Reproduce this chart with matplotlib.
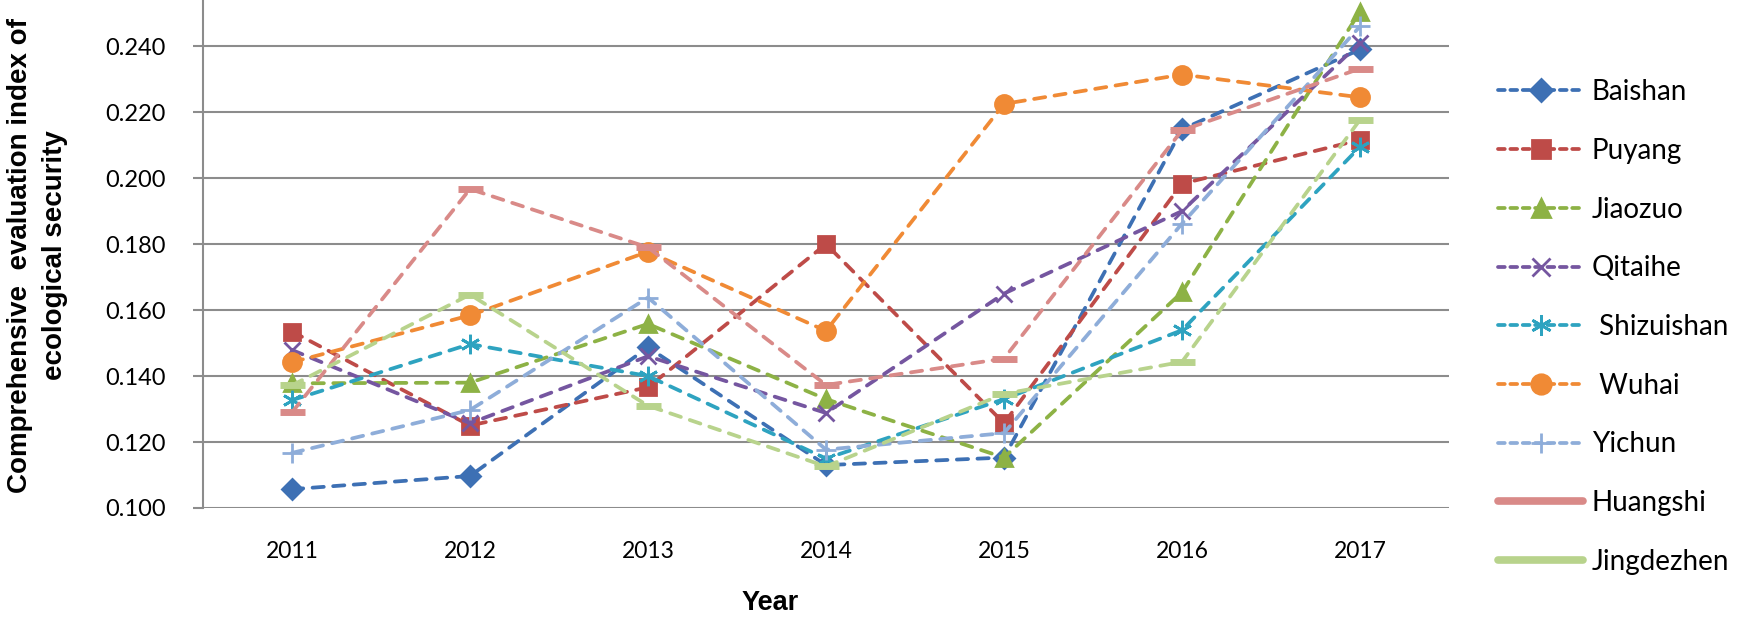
import matplotlib
matplotlib.use('Agg')
import matplotlib.pyplot as plt
from matplotlib.lines import Line2D
from matplotlib import font_manager

years = ['2011', '2012', '2013', '2014', '2015', '2016', '2017']

baishan = [0.1057, 0.1097, 0.1487, 0.1130, 0.1153, 0.2148, 0.2390]
puyang = [0.1535, 0.1250, 0.1366, 0.1800, 0.1257, 0.1983, 0.2116]
jiaozuo = [0.1378, 0.1380, 0.1558, 0.1330, 0.1153, 0.1654, 0.2505]
qitaihe = [0.1479, 0.1257, 0.1460, 0.1288, 0.1650, 0.1900, 0.2410]
shizuishan = [0.1327, 0.1497, 0.1400, 0.1150, 0.1330, 0.1539, 0.2095]
wuhai = [0.1442, 0.1584, 0.1777, 0.1537, 0.2225, 0.2314, 0.2245]
yichun = [0.1167, 0.1297, 0.1638, 0.1177, 0.1227, 0.1862, 0.2460]
huangshi = [0.1290, 0.1967, 0.1790, 0.1373, 0.1453, 0.2145, 0.2332]
jingdezhen = [0.1372, 0.1647, 0.1310, 0.1126, 0.1346, 0.1443, 0.2177]

names = ['Baishan', 'Puyang', 'Jiaozuo', 'Qitaihe', ' Shizuishan', ' Wuhai',
         'Yichun', 'Huangshi', 'Jingdezhen']
series = [baishan, puyang, jiaozuo, qitaihe, shizuishan, wuhai, yichun,
          huangshi, jingdezhen]
colors = ['#3D70B4', '#BE4B48', '#8DB245', '#7556A0', '#2EA3C0', '#F08A35',
          '#8EADD9', '#D98A88', '#B8D38C']
markers = ['D', 's', '^', 'x', (6, 2, 0), 'o', '+', '_', '_']
msizes = [10, 12, 12, 12, 14, 13, 14, 18, 18]

# fonts: Calibri-ish for ticks/legend, Arial-ish bold for axis titles
avail = set(f.name for f in font_manager.fontManager.ttflist)
body_font = 'Lato' if 'Lato' in avail else 'DejaVu Sans'
title_font = 'Liberation Sans'

W, H = 1737, 620
fig = plt.figure(figsize=(W / 100, H / 100), dpi=100)
ax = fig.add_axes([203 / W, 1 - 508 / H, (1449 - 203) / W, 508 / H])

x = list(range(len(years)))
handles = []
for i, (vals, nm) in enumerate(zip(series, names)):
    mew = 2.0
    if markers[i] == '_':
        mew = 5
    ax.plot(x, vals, color=colors[i], lw=2.7, dashes=(3.0, 2.5),
            dash_capstyle='round', marker=markers[i], markersize=msizes[i],
            markeredgewidth=mew, markerfacecolor=colors[i],
            markeredgecolor=colors[i], zorder=3 + i)
    if markers[i] == '_':
        handles.append(Line2D([], [], color=colors[i], lw=5.5,
                              solid_capstyle='round'))
    else:
        handles.append(Line2D([], [], color=colors[i], lw=2.7,
                              dashes=(1.8, 1.5), dash_capstyle='round',
                              marker=markers[i],
                              markersize=msizes[i] + 1, markeredgewidth=mew,
                              markerfacecolor=colors[i],
                              markeredgecolor=colors[i]))

ax.set_xlim(-0.5, 6.5)
ax.set_ylim(0.100, 0.254)
ax.set_yticks([0.10, 0.12, 0.14, 0.16, 0.18, 0.20, 0.22, 0.24])
ax.set_yticklabels(['%.3f' % v for v in ax.get_yticks()])
ax.set_xticks(x)
ax.set_xticklabels(years)

ax.yaxis.grid(True, color='#8C8C8C', lw=1.5)
ax.set_axisbelow(True)
for s in ['top', 'right', 'bottom']:
    ax.spines[s].set_visible(False)
ax.spines['left'].set_color('#8C8C8C')
ax.spines['left'].set_linewidth(1.5)

ax.tick_params(axis='y', length=7, width=1.5, color='#8C8C8C', pad=20,
               labelsize=17)
ax.tick_params(axis='x', length=0, pad=24, labelsize=16.5)
for lab in ax.get_xticklabels() + ax.get_yticklabels():
    lab.set_fontfamily(body_font)

fig.text(38 / W, 1 - 255 / H,
         'Comprehensive  evaluation index of\necological security',
         rotation=90, ha='center', va='center', fontsize=20,
         fontweight='bold', family=title_font, linespacing=1.45,
         multialignment='center')
fig.text(770 / W, 1 - 603 / H, 'Year', ha='center', va='center',
         fontsize=19.5, fontweight='bold', family=title_font)

# legend: shrink the font until the widest label fits inside the figure,
# keeping the row pitch at about 58 px
row_px = 58.25
size = 20.0
while True:
    fs_px = size * 100 / 72
    leg = fig.legend(handles, names, loc='upper left',
                     bbox_to_anchor=(1498 / W, 1 - (92 - 0.46 * fs_px) / H),
                     frameon=False, handlelength=85 / fs_px,
                     handletextpad=9 / fs_px,
                     labelspacing=(row_px - 0.92 * fs_px) / fs_px,
                     borderpad=0, borderaxespad=0, numpoints=1,
                     prop={'family': body_font, 'size': size})
    fig.canvas.draw()
    bb = leg.get_window_extent()
    if bb.x1 <= W - 3 or size < 12:
        break
    leg.remove()
    size -= 0.5

fig.savefig('out.png', dpi=100)
